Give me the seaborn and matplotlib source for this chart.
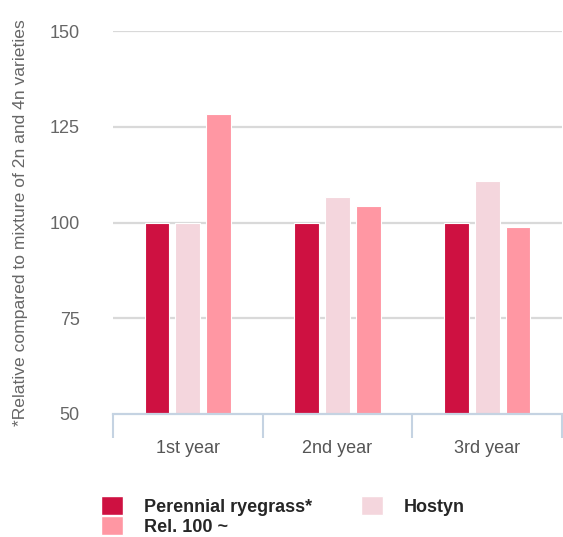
import matplotlib
matplotlib.use("Agg")
import matplotlib.pyplot as plt
import seaborn as sns
import pandas as pd
from matplotlib.patches import Patch

categories = ["1st year", "2nd year", "3rd year"]
series_names = ["Perennial ryegrass*", "Hostyn", "Rel. 100 ~"]
perennial = [100, 100, 100]
hostyn = [100, 106.7, 110.8]
rel100 = [128.3, 104.3, 98.8]
colors = ["#CE1141", "#F4D6DD", "#FF97A3"]
yticks = [50, 75, 100, 125, 150]

rows = []
for name, vals in zip(series_names, [perennial, hostyn, rel100]):
    for c, v in zip(categories, vals):
        rows.append({"cat": c, "series": name, "value": v})
df = pd.DataFrame(rows)

sns.set_theme(style="white")
plt.rcParams["font.family"] = ["Liberation Sans", "DejaVu Sans"]

fig = plt.figure(figsize=(5.63, 5.37), dpi=100)
ax = fig.add_axes([113 / 563, 1 - 414 / 537, 449 / 563, 383 / 537])

sns.barplot(data=df, x="cat", y="value", hue="series", order=categories,
            hue_order=series_names, palette=colors, width=0.62, gap=0.2,
            ax=ax, legend=False, saturation=1, zorder=3)

# bars start at baseline 50
for p in ax.patches:
    h = p.get_height()
    p.set_y(50)
    p.set_height(h - 50)
    p.set_edgecolor("white")
    p.set_linewidth(0.8)

ax.set_ylim(50, 150)
ax.set_xlim(-0.5, 2.47)
ax.set_yticks(yticks)
ax.set_yticklabels([str(t) for t in yticks], fontsize=13, color="#666666")
ax.tick_params(axis="y", length=0, pad=24)
for t in yticks[1:]:
    ax.axhline(t, color="#D9D9D9", lw=1.6, zorder=1)

ax.set_xticks(range(len(categories)))
ax.set_xticklabels(categories, fontsize=13, color="#555555")
ax.tick_params(axis="x", which="major", length=0, pad=19)
ax.set_xticks([-0.5, 0.5, 1.5, 2.5], minor=True)
ax.tick_params(axis="x", which="minor", bottom=True, length=17, width=1.5,
               color="#C5D3E2", direction="out")

for s in ["top", "right", "left"]:
    ax.spines[s].set_visible(False)
ax.spines["bottom"].set_color("#C5D3E2")
ax.spines["bottom"].set_linewidth(1.6)
ax.spines["bottom"].set_zorder(4)

ax.set_xlabel("")
ax.set_ylabel("*Relative compared to mixture of 2n and 4n varieties",
              fontsize=12.6, color="#666666")
ax.yaxis.set_label_coords((28 - 113) / 449, 0.5)

handles = [Patch(facecolor=colors[0]), Patch(facecolor=colors[2]), Patch(facecolor=colors[1])]
labels = [series_names[0], series_names[2], series_names[1]]
leg = fig.legend(handles, labels, ncol=2, loc="upper left",
                 bbox_to_anchor=(94 / 563, 1 - 489 / 537), frameon=False,
                 prop={"weight": "bold", "size": 13}, handlelength=1.2,
                 handleheight=1.2, handletextpad=1.15, columnspacing=2.75,
                 labelspacing=0.05, borderaxespad=0)

fig.savefig("out.png", dpi=100)
